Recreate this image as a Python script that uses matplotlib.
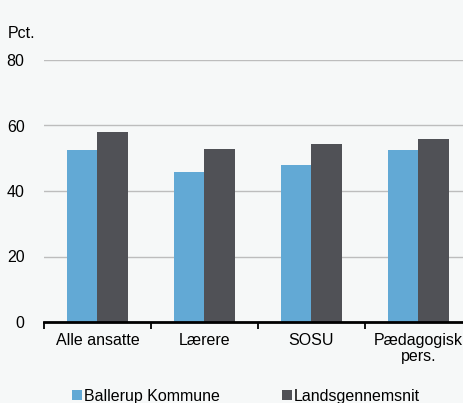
import matplotlib.pyplot as plt
import numpy as np

plt.rcParams["font.family"] = ["Liberation Sans", "DejaVu Sans"]

categories = ["Alle ansatte", "Lærere", "SOSU", "Pædagogisk\npers."]
ballerup = [52.6, 45.9, 47.9, 52.4]
landsgennemsnit = [58.0, 52.9, 54.3, 55.9]
yticks = [0, 20, 40, 60, 80]

BLUE = "#62A9D5"
DARK = "#505156"
BG = "#F6F8F8"
FS = 11.5

W, H = 464, 403
fig = plt.figure(figsize=(W / 100, H / 100), dpi=100, facecolor=BG)
# axes runs a little past the right edge, as in the reference (cropped)
left, right, top, bottom = 44, 472, 60, 322
ax = fig.add_axes([left / W, 1 - bottom / H, (right - left) / W, (bottom - top) / H])
ax.set_facecolor(BG)

x = np.arange(len(categories))
bw = 0.285
ax.bar(x - bw / 2, ballerup, bw, color=BLUE, label="Ballerup Kommune", zorder=3)
ax.bar(x + bw / 2, landsgennemsnit, bw, color=DARK, label="Landsgennemsnit", zorder=3)

ax.set_xlim(-0.5, len(categories) - 0.5)
ax.set_ylim(0, 80)
ax.set_yticks(yticks)
ax.tick_params(axis="y", length=0, pad=14, labelsize=FS)
ax.yaxis.grid(True, color="#BDBDBD", linewidth=1, zorder=0)

# category labels centred, tick marks between categories
ax.set_xticks(x)
ax.set_xticklabels(categories, fontsize=FS, linespacing=1.05)
ax.tick_params(axis="x", which="major", length=0, pad=8)
ax.set_xticks(np.arange(len(categories)) - 0.5, minor=True)
ax.tick_params(axis="x", which="minor", length=5, width=1.3, direction="out", color="black")

for s in ["top", "right", "left"]:
    ax.spines[s].set_visible(False)
ax.spines["bottom"].set_linewidth(2)
ax.spines["bottom"].set_zorder(4)

fig.text(8 / W, 1 - 34 / H, "Pct.", fontsize=FS, va="center", ha="left")

fig.legend(loc="center", bbox_to_anchor=(0.530, 1 - 396 / H), ncol=2, frameon=False,
           fontsize=FS, handlelength=0.63, handleheight=0.63, handletextpad=0.15,
           columnspacing=3.85, borderpad=0)

fig.savefig("out.png", dpi=100, facecolor=BG)
